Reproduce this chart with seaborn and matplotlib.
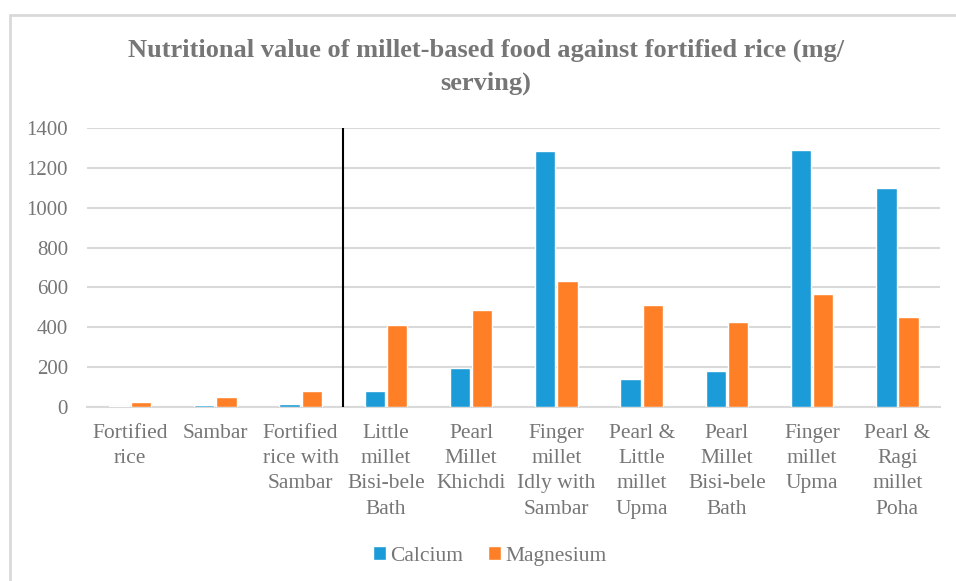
import seaborn as sns
import matplotlib.pyplot as plt
import pandas as pd
from matplotlib.lines import Line2D

# DATA (mg / serving)
foods = ['Fortified\nrice', 'Sambar', 'Fortified\nrice with\nSambar', 'Little\nmillet\nBisi-bele\nBath',
         'Pearl\nMillet\nKhichdi', 'Finger\nmillet\nIdly with\nSambar', 'Pearl &\nLittle\nmillet\nUpma',
         'Pearl\nMillet\nBisi-bele\nBath', 'Finger\nmillet\nUpma', 'Pearl &\nRagi\nmillet\nPoha']
calcium = [4, 12, 17, 80, 195, 1284, 142, 182, 1288, 1097]
magnesium = [26, 52, 81, 412, 489, 632, 511, 424, 568, 451]
yticks = [0, 200, 400, 600, 800, 1000, 1200, 1400]

df = pd.DataFrame({'food': foods * 2,
                   'value': calcium + magnesium,
                   'nutrient': ['Calcium'] * len(foods) + ['Magnesium'] * len(foods)})

TXT = '#767676'
GRID = '#D9D9D9'

sns.set_style('white')
plt.rcParams['font.family'] = ['Liberation Serif', 'DejaVu Serif']

fig = plt.figure(figsize=(9.56, 5.81), dpi=100)
ax = fig.add_axes([0.0915, 0.2995, 0.8918, 0.4802])

sns.barplot(data=df, x='food', y='value', hue='nutrient', order=foods, saturation=1,
            palette=['#1B9BD7', '#FF7F27'], width=0.52, gap=0.08, ax=ax, legend=True, zorder=3)

ax.set_ylim(0, 1400)
ax.set_xlim(-0.5, len(foods) - 0.5)
ax.set_yticks(yticks)
ax.yaxis.grid(True, color=GRID, linewidth=1.5)
ax.set_axisbelow(True)
for s in ['top', 'right', 'left']:
    ax.spines[s].set_visible(False)
ax.spines['bottom'].set_color(GRID)
ax.spines['bottom'].set_linewidth(1.5)
ax.spines['bottom'].set_zorder(1)
ax.tick_params(axis='both', length=0, labelcolor=TXT)
ax.tick_params(axis='y', pad=14, labelsize=15)
ax.tick_params(axis='x', pad=12, labelsize=15.5)
for t in ax.get_xticklabels():
    t.set_linespacing(1.45)
ax.set_xlabel('')
ax.set_ylabel('')

# separator between rice dishes and millet dishes
ax.axvline(2.5, ymin=0, ymax=1, color='black', linewidth=1.5, zorder=4)

ax.set_title('Nutritional value of millet-based food against fortified rice (mg/\nserving)',
             fontsize=19, fontweight='bold', color=TXT, pad=28, x=0.467, linespacing=1.5)

ax.legend_.remove()
handles, labels = ax.get_legend_handles_labels()
fig.legend(handles, labels, loc='center', bbox_to_anchor=(0.512, 0.043), ncol=2, frameon=False,
           fontsize=15.5, labelcolor=TXT, handlelength=0.6, handleheight=0.6, handletextpad=0.2,
           columnspacing=1.15)

# chart area border (left and top edges visible)
fig.add_artist(Line2D([9.5 / 956, 9.5 / 956], [0, 1 - 15 / 581], color=GRID, linewidth=2))
fig.add_artist(Line2D([9.5 / 956, 1], [1 - 15 / 581, 1 - 15 / 581], color=GRID, linewidth=2))

fig.savefig('out.png', dpi=100, facecolor='white')
